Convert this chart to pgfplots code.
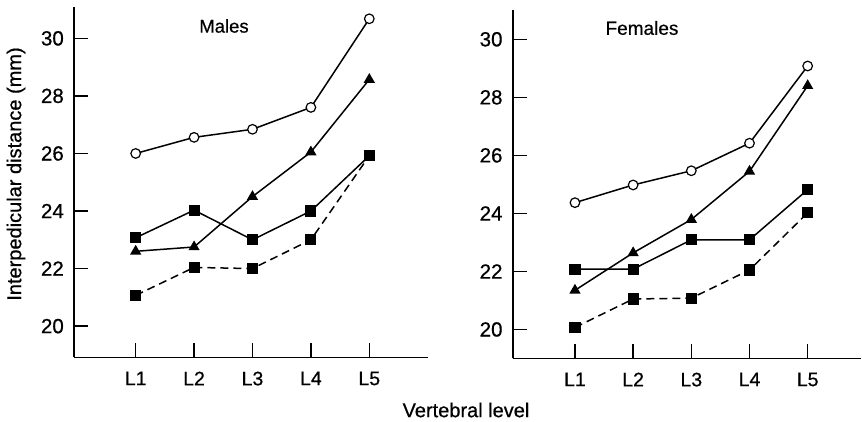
\documentclass[border=0pt]{standalone}
\usepackage{fontspec}
\setmainfont{Liberation Sans}[FakeBold=0.6]
\usepackage{pgfplots}
\pgfplotsset{compat=1.18}
\begin{document}
\begin{tikzpicture}
\useasboundingbox (0pt,0pt) rectangle (862pt,422pt);
\pgfplotsset{
  panel/.style={
    scale only axis, anchor=south west, clip=false,
    axis x line=bottom, axis y line=left,
    axis line style={-, line width=1.8pt},
    xtick={1,2,3,4,5}, xticklabels={L1,L2,L3,L4,L5},
    ytick={20,22,24,26,28,30},
    tick align=inside,
    major tick length=14pt,
    tick style={line width=1.5pt, black},
    /pgf/number format/assume math mode=true,
    yticklabel style={font=\fontsize{20.5}{24}\selectfont, inner sep=0pt, xshift=-10pt},
    xticklabel style={font=\fontsize{19.5}{23}\selectfont, inner sep=0pt, yshift=-14pt},
  },
  circ/.style={black, line width=1.5pt, mark=*, mark size=4.8pt, mark options={fill=white, line width=1.2pt}},
  tri/.style={black, line width=1.5pt, mark=triangle*, mark size=5pt, mark options={solid}},
  sq/.style={black, line width=1.5pt, mark=square*, mark size=4.8pt, mark options={solid}},
  dsq/.style={black, line width=1.5pt, dash pattern=on 8pt off 5pt, mark=square*, mark size=4.8pt, mark options={solid}},
}
% Males
\begin{axis}[panel, at={(74pt,64.5pt)}, width=353.7pt, height=350.5pt,
  xmin=-0.056, xmax=6.0, ymin=18.91, ymax=31.09]
\addplot[circ] coordinates {(1,26.0)(2,26.56)(3,26.84)(4,27.6)(5,30.68)};
\addplot[tri] coordinates {(1,22.6)(2,22.75)(3,24.5)(4,26.05)(5,28.57)};
\addplot[sq] coordinates {(1,23.07)(2,24.03)(3,23.0)(4,24.0)(5,25.92)};
\addplot[dsq] coordinates {(1,21.07)(2,22.04)(3,22.0)(4,23.0)(5,25.92)};
\end{axis}
% Females
\begin{axis}[panel, at={(512.7pt,63.5pt)}, width=348.5pt, height=348.5pt,
  xmin=-0.07, xmax=5.92, ymin=19.0, ymax=31.01]
\addplot[circ] coordinates {(1,24.37)(2,24.98)(3,25.47)(4,26.42)(5,29.08)};
\addplot[tri] coordinates {(1,21.35)(2,22.64)(3,23.79)(4,25.45)(5,28.4)};
\addplot[sq] coordinates {(1,22.08)(2,22.08)(3,23.09)(4,23.09)(5,24.82)};
\addplot[dsq] coordinates {(1,20.07)(2,21.05)(3,21.08)(4,22.05)(5,24.02)};
\end{axis}
\node[font=\fontsize{18.5}{21}\selectfont] at (224pt,396pt) {Males};
\node[font=\fontsize{19}{22}\selectfont] at (642pt,394pt) {Females};
\node[font=\fontsize{20}{23}\selectfont, rotate=90] at (16pt,248pt) {Interpedicular distance (mm)};
\node[font=\fontsize{20}{23}\selectfont] at (466pt,12pt) {Vertebral level};
\end{tikzpicture}
\end{document}
